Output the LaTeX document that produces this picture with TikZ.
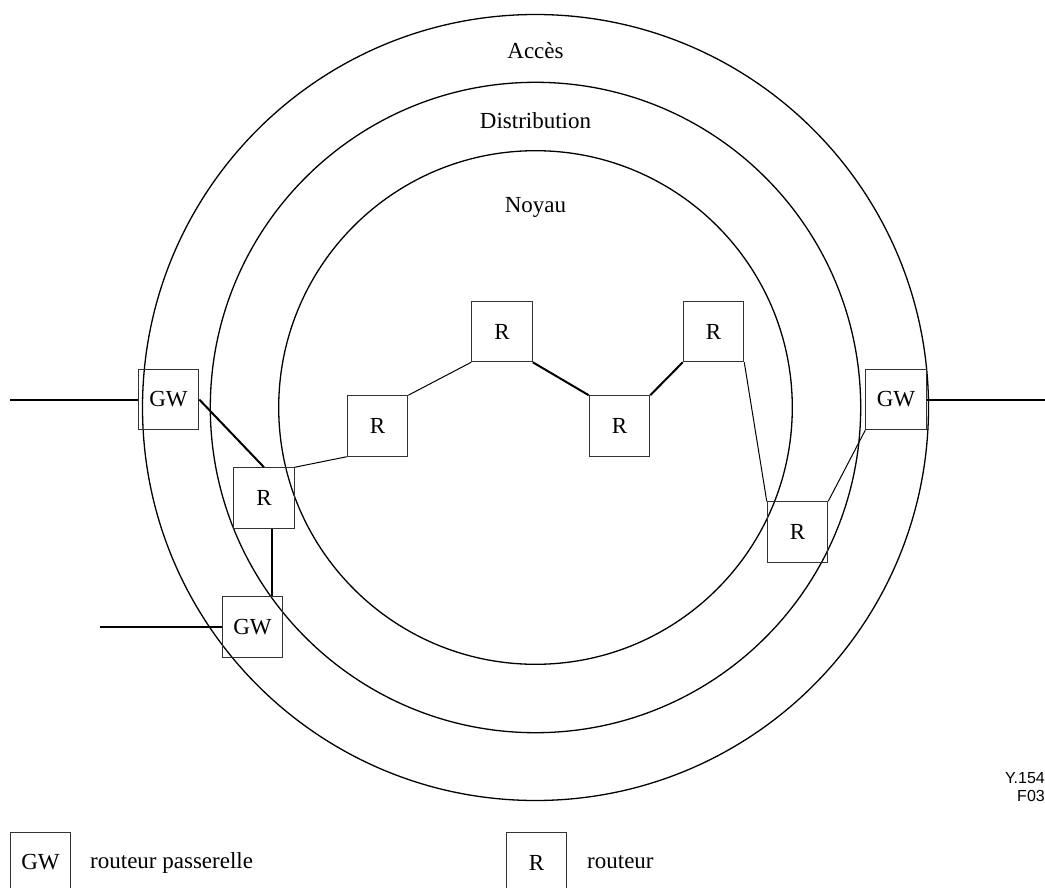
\documentclass[tikz,border=0pt]{standalone}
\usepackage{fontspec}
\setmainfont{Liberation Serif}
\newfontfamily\labelsans{Liberation Sans}
\begin{document}
\begin{tikzpicture}[x=1pt,y=-1pt,
  ring/.style={draw=black,line width=1.3pt},
  box/.style={draw=black!80,line width=1pt,minimum width=60.5pt,minimum height=60.5pt,inner sep=0pt,font=\fontsize{23}{27}\selectfont},
  thin/.style={draw=black,line width=1pt},
  heavy/.style={draw=black,line width=2pt},
  lbl/.style={font=\fontsize{23}{27}\selectfont,inner sep=0pt}]
\useasboundingbox (0,0) rectangle (1045,888);
\clip (0,0) rectangle (1045,888);
% rings
\coordinate (c) at (535.5,407.5);
\draw[ring] (c) circle[radius=393];
\draw[ring] (c) circle[radius=325.2];
\draw[ring] (c) circle[radius=256.8];
% ring labels
\node[lbl] (acces) at (535.5,51) {Accès};
\node[lbl] (distr) at (535.5,121) {Distribution};
\node[lbl] (noyau) at (535.5,207) {Noyau};
% nodes
\node[box] (gw1) at (168.5,399.5) {GW};
\node[box] (r1) at (264,498) {R};
\node[box] (gw2) at (252.5,627) {GW};
\node[box] (r2) at (377.5,426) {R};
\node[box] (r3) at (502,331.5) {R};
\node[box] (r4) at (619.5,426) {R};
\node[box] (r5) at (713.5,331.5) {R};
\node[box] (r6) at (797.5,532) {R};
\node[box] (gw3) at (896,399.5) {GW};
% external line ends
\coordinate (in1) at (10,399.5);
\coordinate (in2) at (100,627);
\coordinate (out1) at (1045,399.5);
% connectors
\draw[heavy] (in1) -- (gw1.west);
\draw[heavy] (in2) -- (gw2.west);
\draw[heavy] (gw3.east) -- (out1);
\draw[heavy] (gw1.east) -- (r1.north);
\draw[heavy] (r1.south -| 272,0) -- (gw2.north -| 272,0);
\draw[thin] (r1.north east) -- (r2.south west);
\draw[thin] (r2.north east) -- (r3.south west);
\draw[heavy] (r3.south east) -- (r4.north west);
\draw[heavy] (r4.north east) -- (r5.south west);
\draw[thin] (r5.south east) -- (r6.north west);
\draw[thin] (gw3.south west) -- (r6.north east);
% figure reference
\node[font=\labelsans\fontsize{16}{18}\selectfont,anchor=north east,inner sep=0pt,align=right] (ref) at (1045,772) {Y.154\\F03};
% legend
\node[box] (leggw) at (40.5,862.5) {GW};
\node[lbl,anchor=west] (leggwt) at (90,862.5) {routeur passerelle};
\node[box] (legr) at (536.5,862.5) {R};
\node[lbl,anchor=west] (legrt) at (587,862.5) {routeur};
\end{tikzpicture}
\end{document}
